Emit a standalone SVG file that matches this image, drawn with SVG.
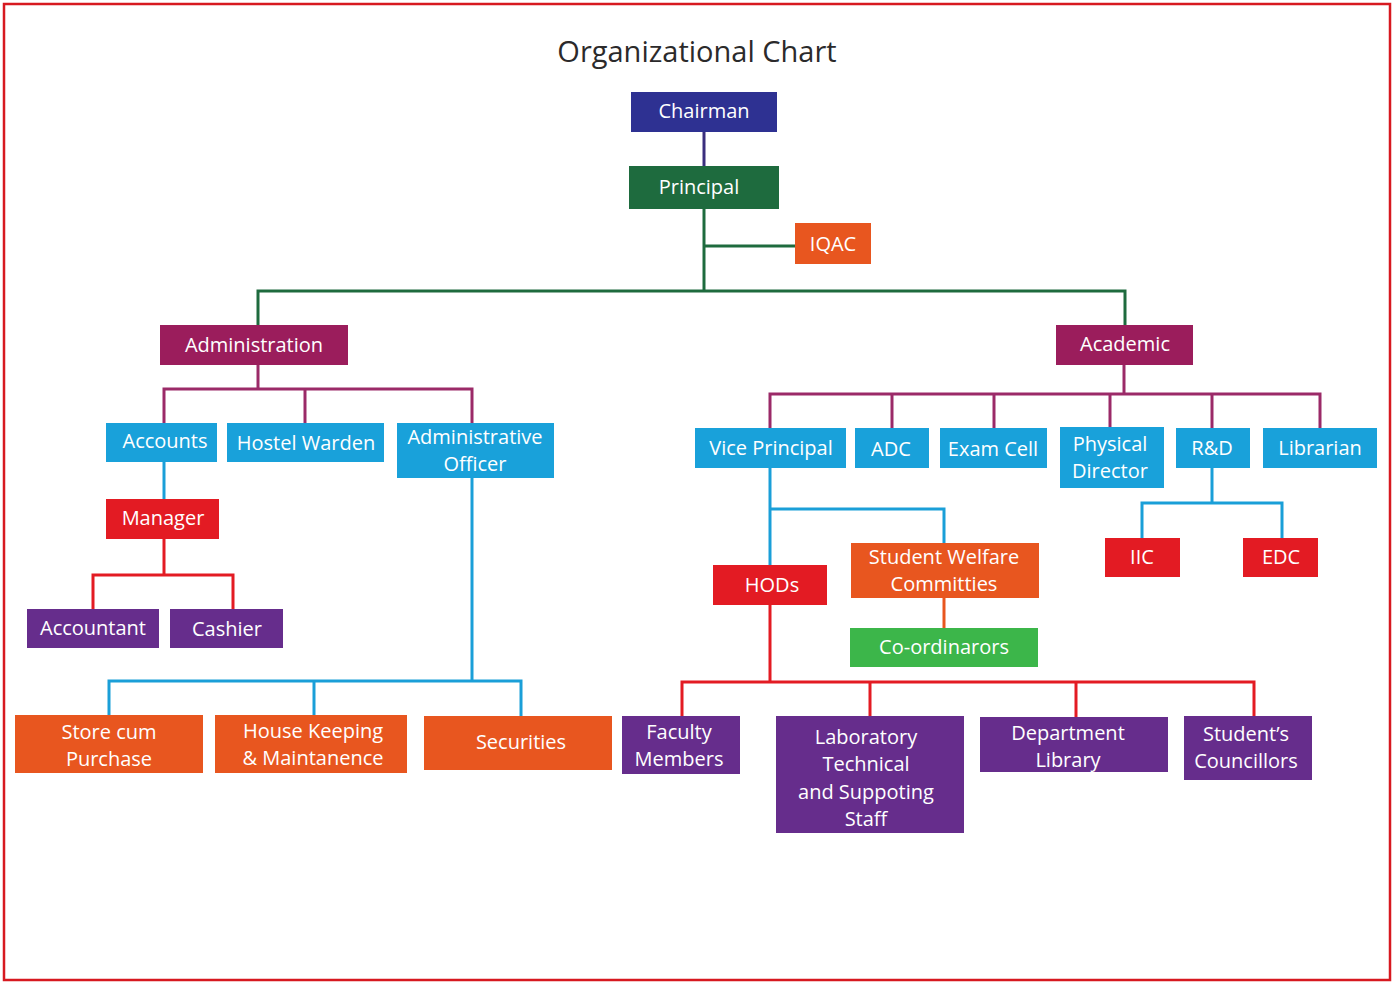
<svg xmlns="http://www.w3.org/2000/svg" width="1398" height="983" viewBox="0 0 1398 983">
<style>
text{font-family:"Open Sans","Noto Sans","Liberation Sans",sans-serif;font-size:20px;fill:#ffffff;text-anchor:middle}
.title{font-size:29px;fill:#2b2a2b}
.c line,.c polyline{fill:none;stroke-width:3}
.navy{fill:#2e3192}.dgreen{fill:#1e6b3e}.orange{fill:#e8561f}.mag{fill:#9b1d5c}
.blue{fill:#19a1da}.red{fill:#e31b23}.purple{fill:#662d8c}.green{fill:#3cb64a}
</style>
<rect x="4" y="4" width="1386" height="976" fill="#ffffff" stroke="#d71920" stroke-width="2.5"/>
<text class="title" x="697" y="62">Organizational Chart</text>
<g class="c" id="connectors">
<line x1="704" y1="132" x2="704" y2="166" stroke="#3b2f7e"/>
<g stroke="#1e6b3e">
<line x1="704" y1="209" x2="704" y2="291"/>
<line x1="704" y1="246" x2="795" y2="246"/>
<polyline points="258,325 258,291 1125,291 1125,325"/>
</g>
<g stroke="#9b2a68">
<line x1="258" y1="365" x2="258" y2="389"/>
<polyline points="164,423 164,389 472,389 472,423"/>
<line x1="305" y1="389" x2="305" y2="423"/>
<line x1="1124" y1="365" x2="1124" y2="394"/>
<polyline points="770,428 770,394 1320,394 1320,428"/>
<line x1="892" y1="394" x2="892" y2="428"/>
<line x1="994" y1="394" x2="994" y2="428"/>
<line x1="1110" y1="394" x2="1110" y2="427"/>
<line x1="1212" y1="394" x2="1212" y2="428"/>
</g>
<g stroke="#1a9fd8">
<line x1="164" y1="462" x2="164" y2="499"/>
<line x1="472" y1="478" x2="472" y2="681"/>
<polyline points="109,715 109,681 521,681 521,716"/>
<line x1="314" y1="681" x2="314" y2="715"/>
<line x1="770" y1="468" x2="770" y2="565"/>
<polyline points="770,509 944,509 944,543"/>
<line x1="1212" y1="468" x2="1212" y2="503"/>
<polyline points="1142,538 1142,503 1282,503 1282,538"/>
</g>
<g stroke="#e31b23">
<line x1="164" y1="539" x2="164" y2="575"/>
<polyline points="93,609 93,575 233,575 233,609"/>
<line x1="770" y1="605" x2="770" y2="682"/>
<polyline points="682,716 682,682 1254,682 1254,716"/>
<line x1="870" y1="682" x2="870" y2="716"/>
<line x1="1076" y1="682" x2="1076" y2="717"/>
</g>
<line x1="944" y1="598" x2="944" y2="628" stroke="#e8561f"/>
</g>
<g id="chairman"><rect class="navy" x="631" y="92" width="146" height="40"/><text x="704" y="118">Chairman</text></g>
<g id="principal"><rect class="dgreen" x="629" y="166" width="150" height="43"/><text x="699" y="194">Principal</text></g>
<g id="iqac"><rect class="orange" x="795" y="223" width="76" height="41"/><text x="833" y="251">IQAC</text></g>
<g id="administration"><rect class="mag" x="160" y="325" width="188" height="40"/><text x="254" y="352">Administration</text></g>
<g id="academic"><rect class="mag" x="1056" y="325" width="137" height="40"/><text x="1125" y="351">Academic</text></g>
<g id="accounts"><rect class="blue" x="106" y="423" width="111" height="39"/><text x="165" y="448">Accounts</text></g>
<g id="hostel-warden"><rect class="blue" x="227" y="423" width="157" height="39"/><text x="306" y="450">Hostel Warden</text></g>
<g id="administrative-officer"><rect class="blue" x="397" y="423" width="157" height="55"/><text x="475" y="444">Administrative</text><text x="475" y="471">Officer</text></g>
<g id="manager"><rect class="red" x="106" y="499" width="113" height="40"/><text x="163" y="525">Manager</text></g>
<g id="accountant"><rect class="purple" x="27" y="609" width="132" height="39"/><text x="93" y="635">Accountant</text></g>
<g id="cashier"><rect class="purple" x="170" y="609" width="113" height="39"/><text x="227" y="636">Cashier</text></g>
<g id="store"><rect class="orange" x="15" y="715" width="188" height="58"/><text x="109" y="739">Store cum</text><text x="109" y="766">Purchase</text></g>
<g id="housekeeping"><rect class="orange" x="215" y="715" width="192" height="58"/><text x="313" y="738">House Keeping</text><text x="313" y="765">&amp; Maintanence</text></g>
<g id="securities"><rect class="orange" x="424" y="716" width="188" height="54"/><text x="521" y="749">Securities</text></g>
<g id="vice-principal"><rect class="blue" x="695" y="428" width="151" height="40"/><text x="771" y="455">Vice Principal</text></g>
<g id="adc"><rect class="blue" x="855" y="428" width="74" height="40"/><text x="891" y="456">ADC</text></g>
<g id="exam-cell"><rect class="blue" x="940" y="428" width="107" height="40"/><text x="993" y="456">Exam Cell</text></g>
<g id="physical-director"><rect class="blue" x="1060" y="427" width="104" height="61"/><text x="1110" y="451">Physical</text><text x="1110" y="478">Director</text></g>
<g id="rnd"><rect class="blue" x="1176" y="428" width="74" height="40"/><text x="1212" y="455">R&amp;D</text></g>
<g id="librarian"><rect class="blue" x="1263" y="428" width="114" height="40"/><text x="1320" y="455">Librarian</text></g>
<g id="student-welfare"><rect class="orange" x="851" y="543" width="188" height="55"/><text x="944" y="564">Student Welfare</text><text x="944" y="591">Committies</text></g>
<g id="hods"><rect class="red" x="713" y="565" width="114" height="40"/><text x="772" y="592">HODs</text></g>
<g id="coordinators"><rect class="green" x="850" y="628" width="188" height="39"/><text x="944" y="654">Co-ordinarors</text></g>
<g id="iic"><rect class="red" x="1105" y="538" width="75" height="39"/><text x="1142" y="564">IIC</text></g>
<g id="edc"><rect class="red" x="1243" y="538" width="75" height="39"/><text x="1281" y="564">EDC</text></g>
<g id="faculty"><rect class="purple" x="622" y="716" width="118" height="58"/><text x="679" y="739">Faculty</text><text x="679" y="766">Members</text></g>
<g id="laboratory"><rect class="purple" x="776" y="716" width="188" height="117"/><text x="866" y="744">Laboratory</text><text x="866" y="771">Technical</text><text x="866" y="799">and Suppoting</text><text x="866" y="826">Staff</text></g>
<g id="dept-library"><rect class="purple" x="980" y="717" width="188" height="55"/><text x="1068" y="740">Department</text><text x="1068" y="767">Library</text></g>
<g id="councillors"><rect class="purple" x="1184" y="716" width="128" height="64"/><text x="1246" y="741">Student’s</text><text x="1246" y="768">Councillors</text></g>
</svg>
